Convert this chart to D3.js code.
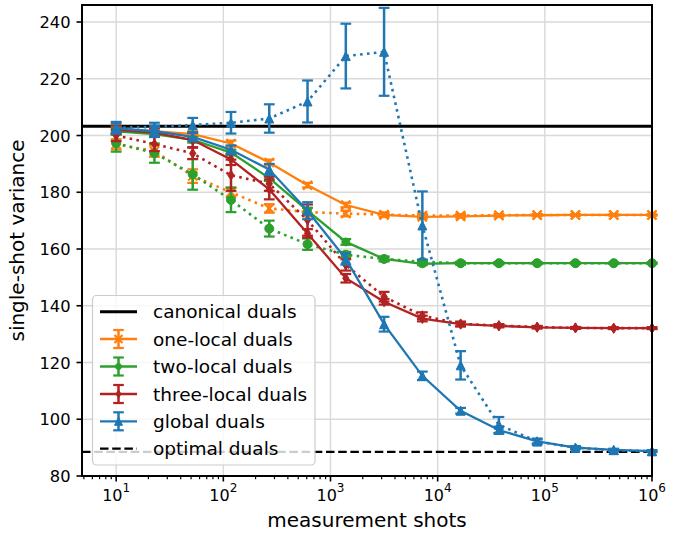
<!DOCTYPE html>
<html><head><meta charset="utf-8">
<script src="https://cdn.jsdelivr.net/npm/d3@7"></script>
<style>
body{margin:0;background:#fff}
svg{display:block}
text{font-family:"DejaVu Sans",sans-serif;fill:#000}
</style>
</head><body>
<svg id="c" width="690" height="537"></svg>
<script>
// ---- data ----
const shots = [10, 22.76, 51.79, 117.9, 268.3, 610.5, 1389.5, 3162.3, 7196.9, 16378.9, 37275.9, 84834.3, 193069.8, 439397.1, 1000000];

const oneLocal      = [202.3, 201.5, 200.5, 197.2, 190.5, 182.5, 175.5, 172.0, 171.3, 171.5, 171.8, 171.9, 172.0, 172.0, 172.0];
const oneLocalErr   = [1.0, 1.0, 1.0, 1.0, 1.0, 0.8, 0.8, 0.6, 0.5, 0.4, 0.3, 0.3, 0.2, 0.2, 0.2];
const oneLocalDot   = [196.9, 194.5, 185.7, 180.0, 174.3, 173.0, 172.5, 172.1, 171.8, 171.8, 171.9, 172.0, 172.0, 172.0, 172.0];
const oneLocalDotErr= [1.8, 2.0, 2.4, 1.7, 1.5, 1.5, 1.0, 0.8, 0.6, 0.5, 0.4, 0.3, 0.3, 0.2, 0.2];

const twoLocal      = [201.5, 200.5, 198.5, 194.0, 185.0, 173.5, 162.5, 156.5, 154.8, 155.0, 155.0, 155.0, 155.0, 155.0, 155.0];
const twoLocalErr   = [1.0, 1.0, 1.0, 1.0, 1.0, 1.0, 1.0, 0.8, 0.5, 0.4, 0.3, 0.3, 0.2, 0.2, 0.2];
const twoLocalDot   = [197.3, 193.8, 186.3, 177.3, 167.2, 161.7, 158.0, 156.5, 155.5, 155.0, 155.0, 155.0, 155.0, 155.0, 155.0];
const twoLocalDotErr= [3.0, 3.4, 5.4, 4.3, 2.8, 2.0, 1.0, 0.8, 0.6, 0.5, 0.4, 0.3, 0.3, 0.2, 0.2];

const threeLocal      = [202.0, 201.0, 198.4, 191.6, 181.0, 165.5, 149.7, 141.4, 135.5, 133.5, 132.9, 132.4, 132.2, 132.1, 132.1];
const threeLocalErr   = [1.5, 1.5, 2.5, 2.0, 3.5, 1.5, 1.5, 1.0, 1.0, 0.8, 0.5, 0.4, 0.3, 0.3, 0.3];
const threeLocalDot   = [200.0, 197.0, 193.7, 186.0, 183.0, 170.2, 154.4, 143.2, 136.5, 133.6, 133.0, 132.5, 132.2, 132.1, 132.1];
const threeLocalDotErr= [2.0, 2.5, 2.0, 5.5, 2.5, 5.5, 2.0, 1.7, 1.2, 0.8, 0.5, 0.4, 0.3, 0.3, 0.3];

const global      = [202.5, 201.5, 199.5, 195.0, 188.0, 173.5, 156.5, 133.5, 115.3, 103.0, 96.2, 92.2, 90.0, 89.2, 88.8];
const globalErr   = [1.8, 2.0, 1.5, 1.5, 2.0, 3.0, 2.0, 2.6, 1.5, 1.0, 1.2, 0.7, 0.5, 0.4, 0.3];
const globalDot   = [202.8, 203.0, 203.7, 204.5, 206.0, 212.0, 228.0, 229.5, 168.3, 119.0, 98.0, 92.2, 90.0, 89.1, 88.7];
const globalDotErr= [2.0, 1.5, 2.5, 3.8, 5.0, 7.4, 11.4, 15.5, 12.0, 5.0, 2.8, 1.0, 0.5, 0.4, 0.3];

const canonicalValue = 203.3;
const optimalValue = 88.5;

const yTicks = [80, 100, 120, 140, 160, 180, 200, 220, 240];
const xTicks = [10, 100, 1000, 10000, 100000, 1000000];
const xTickExp = ["1", "2", "3", "4", "5", "6"];
const legendLabels = ["canonical duals", "one-local duals", "two-local duals", "three-local duals", "global duals", "optimal duals"];

// ---- layout ----
const L = 82, R = 652, T = 5, B = 476;
const svg = d3.select("#c");
const x = d3.scaleLog().domain([4.8, 1e6]).range([L, R]);
const y = d3.scaleLinear().domain([80, 246]).range([B, T]);

const colors = {orange:"#ff7f0e", green:"#2ca02c", red:"#b22222", blue:"#1f77b4"};

// grid
const g = svg.append("g");
g.selectAll(".gx").data(xTicks).enter().append("line")
  .attr("x1", d=>x(d)).attr("x2", d=>x(d)).attr("y1", T).attr("y2", B)
  .attr("stroke", "#d9d9d9").attr("stroke-width", 1.4);
g.selectAll(".gy").data(yTicks).enter().append("line")
  .attr("x1", L).attr("x2", R).attr("y1", d=>y(d)).attr("y2", d=>y(d))
  .attr("stroke", "#d9d9d9").attr("stroke-width", 1.4);

// reference lines
svg.append("line").attr("x1", L).attr("x2", R).attr("y1", y(canonicalValue)).attr("y2", y(canonicalValue))
  .attr("stroke", "#000").attr("stroke-width", 3);
svg.append("line").attr("x1", L).attr("x2", R).attr("y1", y(optimalValue)).attr("y2", y(optimalValue))
  .attr("stroke", "#000").attr("stroke-width", 2.2).attr("stroke-dasharray", "8.5,3.7");

// markers
function markerPath(type, m) {
  const s = m / 2;
  if (type === "x") return `M${-s},${-s}L${s},${s}M${-s},${s}L${s},${-s}`;
  if (type === "o") return d3.symbol().type(d3.symbolCircle).size(Math.PI * s * s)();
  if (type === "d") { const w = s * 0.62; return `M0,${-s}L${w},0L0,${s}L${-w},0Z`; }
  if (type === "^") return `M0,${-s}L${s},${s}L${-s},${s}Z`;
}
function drawMarker(sel, type, m, color, cx, cy) {
  const p = sel.append("path").attr("d", markerPath(type, m)).attr("transform", `translate(${cx},${cy})`);
  if (type === "x") p.attr("fill", "none").attr("stroke", color).attr("stroke-width", 2.2);
  else p.attr("fill", color).attr("stroke", color).attr("stroke-width", 1);
}

function drawSeries(vals, errs, color, dotted, marker, msize) {
  const data = shots.map((s, i) => ({s, v: vals[i], e: errs[i]}));
  const grp = svg.append("g");
  grp.append("path").datum(data)
    .attr("d", d3.line().x(d => x(d.s)).y(d => y(d.v)))
    .attr("fill", "none").attr("stroke", color).attr("stroke-width", dotted ? 2.6 : 2.3)
    .attr("stroke-dasharray", dotted ? "2.6,4.3" : null);
  data.forEach(d => {
    const cx = x(d.s);
    grp.append("line").attr("x1", cx).attr("x2", cx).attr("y1", y(d.v - d.e)).attr("y2", y(d.v + d.e))
      .attr("stroke", color).attr("stroke-width", 2.5);
    [d.v - d.e, d.v + d.e].forEach(v => {
      grp.append("line").attr("x1", cx - 5.4).attr("x2", cx + 5.4).attr("y1", y(v)).attr("y2", y(v))
        .attr("stroke", color).attr("stroke-width", 2.2);
    });
  });
  data.forEach(d => drawMarker(grp, marker, msize, color, x(d.s), y(d.v)));
}

drawSeries(oneLocalDot, oneLocalDotErr, colors.orange, true, "x", 9);
drawSeries(oneLocal, oneLocalErr, colors.orange, false, "x", 9);
drawSeries(twoLocalDot, twoLocalDotErr, colors.green, true, "o", 9);
drawSeries(twoLocal, twoLocalErr, colors.green, false, "o", 8);
drawSeries(threeLocalDot, threeLocalDotErr, colors.red, true, "d", 10);
drawSeries(threeLocal, threeLocalErr, colors.red, false, "d", 10);
drawSeries(globalDot, globalDotErr, colors.blue, true, "^", 9);
drawSeries(global, globalErr, colors.blue, false, "^", 9);

// spines
const sp = svg.append("g").attr("stroke", "#000").attr("stroke-width", 2);
sp.append("rect").attr("x", L).attr("y", T).attr("width", R - L).attr("height", B - T).attr("fill", "none");

// y ticks
const ya = svg.append("g");
yTicks.forEach(t => {
  ya.append("line").attr("x1", L - 5.5).attr("x2", L).attr("y1", y(t)).attr("y2", y(t)).attr("stroke", "#000").attr("stroke-width", 1.6);
  ya.append("text").attr("x", L - 11.5).attr("y", y(t) + 6).attr("text-anchor", "end").attr("font-size", 16.3).text(t);
});

// x ticks major
const xa = svg.append("g");
xTicks.forEach((t, i) => {
  xa.append("line").attr("x1", x(t)).attr("x2", x(t)).attr("y1", B).attr("y2", B + 5.5).attr("stroke", "#000").attr("stroke-width", 1.6);
  const tx = xa.append("text").attr("x", x(t)).attr("y", 501).attr("text-anchor", "middle").attr("font-size", 16);
  tx.append("tspan").text("10");
  tx.append("tspan").attr("font-size", 12).attr("dy", -9.5).text(xTickExp[i]);
});
// x minor ticks
const minors = [];
[1, 10, 100, 1000, 10000, 100000].forEach(dec => {
  for (let k = 2; k <= 9; k++) { const v = dec * k; if (v >= 4.8 && v <= 1e6) minors.push(v); }
});
xa.selectAll(".mn").data(minors).enter().append("line")
  .attr("x1", d => x(d)).attr("x2", d => x(d)).attr("y1", B).attr("y2", B + 3.2)
  .attr("stroke", "#000").attr("stroke-width", 1.2);

// axis labels
svg.append("text").attr("x", (L + R) / 2).attr("y", 527).attr("text-anchor", "middle").attr("font-size", 20).text("measurement shots");
svg.append("text").attr("transform", `translate(24,${(T + B) / 2}) rotate(-90)`).attr("text-anchor", "middle").attr("font-size", 20).text("single-shot variance");

// legend
const lg = svg.append("g");
lg.append("rect").attr("x", 92.5).attr("y", 295.5).attr("width", 222.5).attr("height", 169.5).attr("rx", 4)
  .attr("fill", "#fff").attr("fill-opacity", 0.8).attr("stroke", "#cccccc").attr("stroke-width", 1.2);
const rowY = [311.7, 339.0, 366.5, 394.0, 421.3, 448.7];
const hx1 = 100, hx2 = 137, hc = 118.5;
// canonical
lg.append("line").attr("x1", hx1).attr("x2", hx2).attr("y1", rowY[0]).attr("y2", rowY[0]).attr("stroke", "#000").attr("stroke-width", 3);
const lgSeries = [[colors.orange, "x", 8], [colors.green, "o", 6], [colors.red, "d", 8], [colors.blue, "^", 8]];
lgSeries.forEach((s, i) => {
  const yy = rowY[i + 1];
  lg.append("line").attr("x1", hx1).attr("x2", hx2).attr("y1", yy).attr("y2", yy).attr("stroke", s[0]).attr("stroke-width", 2.3);
  lg.append("line").attr("x1", hc).attr("x2", hc).attr("y1", yy - 9).attr("y2", yy + 9).attr("stroke", s[0]).attr("stroke-width", 2.5);
  [yy - 9, yy + 9].forEach(v => lg.append("line").attr("x1", hc - 5.3).attr("x2", hc + 5.3).attr("y1", v).attr("y2", v).attr("stroke", s[0]).attr("stroke-width", 2.2));
  drawMarker(lg, s[1], s[2], s[0], hc, yy);
});
lg.append("line").attr("x1", hx1).attr("x2", hx2).attr("y1", rowY[5]).attr("y2", rowY[5]).attr("stroke", "#000").attr("stroke-width", 2.2).attr("stroke-dasharray", "8.5,3.7");
legendLabels.forEach((t, i) => {
  lg.append("text").attr("x", 153).attr("y", rowY[i] + 6.5).attr("font-size", 18.5).text(t);
});
</script>
</body></html>
